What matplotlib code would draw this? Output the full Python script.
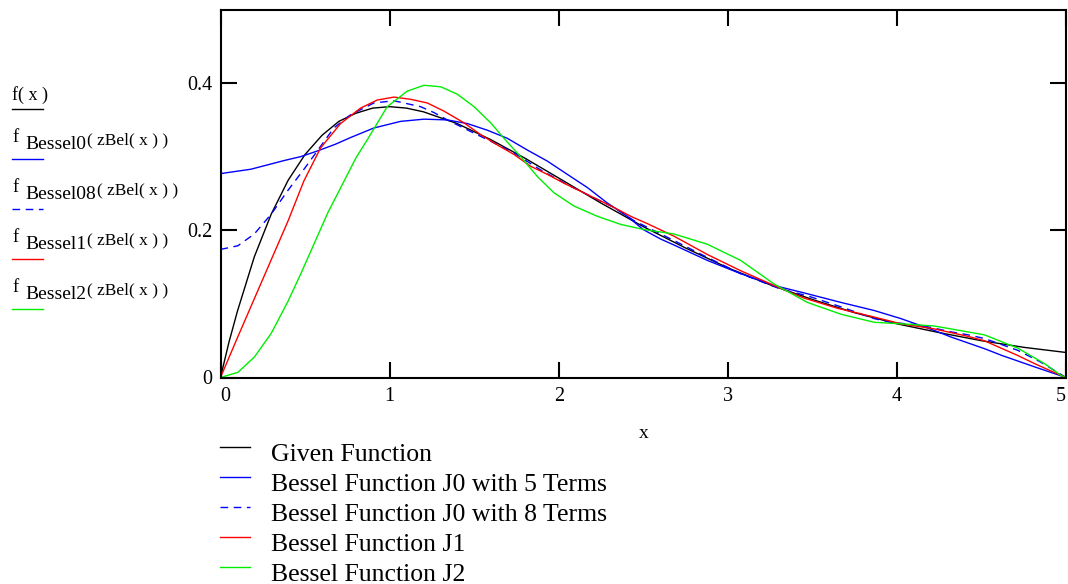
import matplotlib
matplotlib.use("Agg")
import matplotlib.pyplot as plt
from matplotlib.lines import Line2D

plt.rcParams['font.family'] = ['Liberation Serif', 'DejaVu Serif']

# ---------------- data ----------------
given_x = [0, 0.05, 0.1, 0.2, 0.3, 0.4, 0.5, 0.6, 0.7, 0.8, 0.9, 1.0, 1.1, 1.2, 1.4,
           1.6, 1.8, 2.0, 2.25, 2.5, 2.75, 3.0, 3.25, 3.5, 3.75, 4.0, 4.25, 4.5, 4.75, 5.0]
given_y = [0, 0.048, 0.090, 0.164, 0.222, 0.268, 0.303, 0.329, 0.348, 0.359, 0.366, 0.368,
           0.366, 0.361, 0.345, 0.323, 0.298, 0.271, 0.237, 0.205, 0.176, 0.149, 0.126,
           0.106, 0.088, 0.073, 0.061, 0.050, 0.041, 0.034]

j05_x = [0, 0.18, 0.38, 0.473, 0.576, 0.68, 0.769, 0.907, 1.065, 1.203, 1.341, 1.46, 1.578,
         1.696, 1.815, 1.933, 2.051, 2.17, 2.288, 2.406, 2.5, 2.604, 2.682, 2.88, 3.077,
         3.274, 3.45, 3.669, 3.866, 4.024, 4.221, 4.32, 4.42, 4.52, 4.62, 4.72, 4.82, 4.91, 5.0]
j05_y = [0.277, 0.283, 0.295, 0.300, 0.308, 0.317, 0.326, 0.339, 0.348, 0.351, 0.350, 0.345,
         0.336, 0.325, 0.309, 0.294, 0.276, 0.258, 0.237, 0.219, 0.201, 0.188, 0.180, 0.159,
         0.141, 0.125, 0.115, 0.102, 0.091, 0.080, 0.064, 0.055, 0.047, 0.039, 0.030, 0.022,
         0.014, 0.007, 0.0]

j08_x = [0, 0.103, 0.2, 0.3, 0.398, 0.497, 0.576, 0.67, 0.769, 0.907, 1.026, 1.124, 1.183,
         1.262, 1.341, 1.42, 1.499, 1.598, 1.736, 1.893, 2.051, 2.209, 2.327, 2.446, 2.682,
         2.88, 3.077, 3.314, 3.471, 3.669, 3.866, 3.964, 4.142, 4.32, 4.42, 4.517, 4.616,
         4.714, 4.85, 5.0]
j08_y = [0.174, 0.179, 0.195, 0.222, 0.254, 0.284, 0.309, 0.339, 0.357, 0.373, 0.376, 0.371,
         0.368, 0.360, 0.350, 0.341, 0.332, 0.321, 0.305, 0.282, 0.262, 0.244, 0.231, 0.213,
         0.186, 0.163, 0.141, 0.120, 0.111, 0.096, 0.080, 0.075, 0.071, 0.062, 0.058, 0.053,
         0.045, 0.037, 0.021, 0.0]

j1_x = [0, 0.1, 0.2, 0.3, 0.4, 0.493, 0.592, 0.71, 0.828, 0.927, 1.026, 1.124, 1.223, 1.321,
        1.44, 1.538, 1.637, 1.736, 1.834, 1.933, 2.031, 2.13, 2.229, 2.327, 2.426, 2.525,
        2.682, 2.88, 3.077, 3.274, 3.45, 3.65, 3.85, 4.024, 4.221, 4.32, 4.418, 4.517, 4.615,
        4.714, 4.813, 4.9, 5.0]
j1_y = [0, 0.054, 0.107, 0.160, 0.213, 0.267, 0.312, 0.345, 0.366, 0.377, 0.381, 0.378,
        0.373, 0.362, 0.346, 0.330, 0.316, 0.303, 0.287, 0.276, 0.264, 0.253, 0.242, 0.231,
        0.219, 0.209, 0.192, 0.167, 0.145, 0.125, 0.108, 0.094, 0.083, 0.073, 0.066, 0.061,
        0.056, 0.050, 0.040, 0.030, 0.019, 0.010, 0.0]

j2_x = [0, 0.103, 0.201, 0.3, 0.398, 0.477, 0.556, 0.635, 0.72, 0.8, 0.868, 0.986, 1.104,
        1.203, 1.302, 1.40, 1.499, 1.598, 1.676, 1.775, 1.874, 1.972, 2.09, 2.229, 2.367,
        2.505, 2.682, 2.88, 3.077, 3.274, 3.471, 3.669, 3.866, 4.024, 4.221, 4.32, 4.517,
        4.714, 4.872, 4.97, 5.0]
j2_y = [0, 0.007, 0.028, 0.060, 0.103, 0.142, 0.183, 0.224, 0.262, 0.298, 0.323, 0.368,
        0.389, 0.397, 0.395, 0.385, 0.368, 0.346, 0.325, 0.300, 0.273, 0.251, 0.233, 0.219,
        0.208, 0.201, 0.195, 0.181, 0.159, 0.127, 0.102, 0.086, 0.075, 0.073, 0.070, 0.066,
        0.058, 0.040, 0.019, 0.003, 0.0]

x_ticks = [0, 1, 2, 3, 4, 5]
x_tick_labels = ['0', '1', '2', '3', '4', '5']
y_ticks = [0, 0.2, 0.4]
y_tick_labels = ['0', '0.2', '0.4']

legend_labels = ['Given Function', 'Bessel Function J0 with 5 Terms',
                 'Bessel Function J0 with 8 Terms', 'Bessel Function J1',
                 'Bessel Function J2']
trace_subs = [None, 'Bessel0', 'Bessel08', 'Bessel1', 'Bessel2']

# ---------------- styles ----------------
BLUE = '#0000ff'
RED = '#ff0000'
GREEN = '#00ee00'
styles = [dict(color='black', lw=1.0, ls='-'),
          dict(color=BLUE, lw=1.0, ls='-'),
          dict(color=BLUE, lw=1.0, ls=(0, (5.5, 4.0))),
          dict(color=RED, lw=1.0, ls='-'),
          dict(color=GREEN, lw=1.0, ls='-')]

W, H = 1068, 584
fig = plt.figure(figsize=(W / 100, H / 100), dpi=100)


def fx(px):
    return px / W


def fy(py):
    return 1 - py / H


ax = fig.add_axes([fx(220.5), fy(377.5), (1066 - 220.5) / W, (377.5 - 9.5) / H])

series = [(given_x, given_y), (j05_x, j05_y), (j08_x, j08_y), (j1_x, j1_y), (j2_x, j2_y)]
for (xs, ys), st in zip(series, styles):
    ax.plot(xs, ys, color=st['color'], lw=st['lw'], ls=st['ls'])

ax.set_xlim(0, 5)
ax.set_ylim(0, 0.5)
ax.set_xticks(x_ticks)
ax.set_xticklabels(x_tick_labels)
ax.set_yticks(y_ticks)
ax.set_yticklabels(y_tick_labels)
for sp in ax.spines.values():
    sp.set_linewidth(1.5)
    sp.set_color('black')
ax.tick_params(direction='in', length=11.5, width=1.5, top=True, right=True,
               labelsize=14.5, colors='black')
ax.tick_params(axis='x', pad=7)
ax.tick_params(axis='y', pad=6)
xl = ax.get_xticklabels()
xl[0].set_horizontalalignment('left')
xl[-1].set_horizontalalignment('right')

ax.set_xlabel('x', fontsize=14)
ax.xaxis.set_label_coords(0.5, (377.5 - 433) / 368)
ax.xaxis.label.set_verticalalignment('center')

# ---------------- left trace labels ----------------
fig.text(fx(12.5), fy(99.5), 'f( x )', fontsize=13, va='baseline', ha='left')
for i in range(1, 5):
    base = 141.7 + (i - 1) * 50
    fig.text(fx(12.5), fy(base), 'f', fontsize=13.5, va='baseline', ha='left')
    fig.text(fx(25), fy(base + 7), trace_subs[i], fontsize=14, va='baseline', ha='left')
    argx = 97 if trace_subs[i] == 'Bessel08' else 87
    fig.text(fx(argx), fy(base + 2.5), '( zBel( x ) )', fontsize=12.5, va='baseline', ha='left')

under_y = [109, 159, 209, 259, 309]
for uy, st in zip(under_y, styles):
    fig.add_artist(Line2D([fx(12), fx(43)], [fy(uy), fy(uy)], color=st['color'],
                          lw=st['lw'], ls=st['ls'], transform=fig.transFigure))

# ---------------- legend below the plot ----------------
for i, (lab, st) in enumerate(zip(legend_labels, styles)):
    ly = 447 + 30 * i
    fig.add_artist(Line2D([fx(220), fx(250)], [fy(ly), fy(ly)], color=st['color'],
                          lw=st['lw'], ls=st['ls'], transform=fig.transFigure))
    fig.text(fx(271), fy(460.7 + 30 * i), lab, fontsize=18.5, va='baseline', ha='left')

fig.savefig('out.png', dpi=100)
